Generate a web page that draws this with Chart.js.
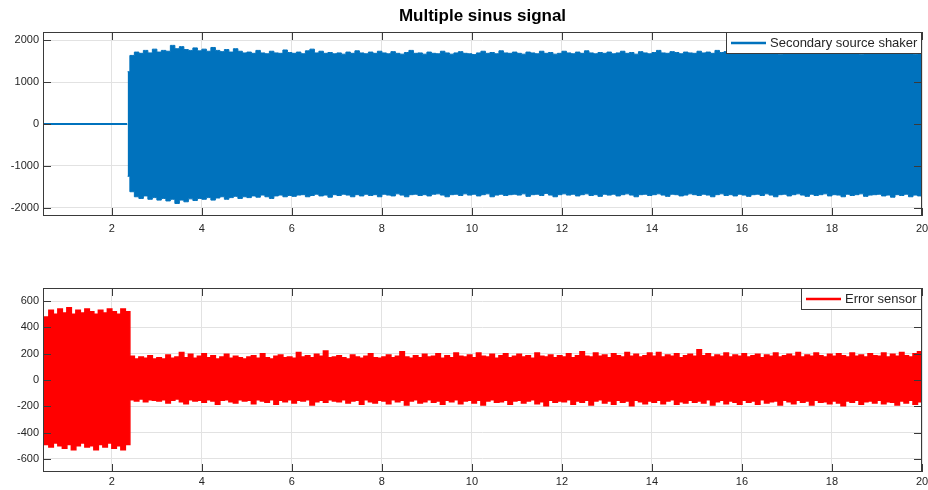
<!DOCTYPE html>
<html>
<head>
<meta charset="utf-8">
<title>Multiple sinus signal</title>
<script src="https://cdn.jsdelivr.net/npm/chart.js@4.4.1/dist/chart.umd.min.js"></script>
<style>
  body { margin: 0; background: #fff; }
  canvas { display: block; }
</style>
</head>
<body>
<canvas id="shakerChart" width="928" height="245"></canvas>
<canvas id="errorChart" width="928" height="245"></canvas>
<script>
// spacing of the envelope samples, seconds
const SAMPLE_STEP = 0.1;

const xTicks = [2, 4, 6, 8, 10, 12, 14, 16, 18, 20];
const shakerTicks = [-2000, -1000, 0, 1000, 2000];
const errorTicks = [-600, -400, -200, 0, 200, 400, 600];

// shaker output stays at zero until the controller switches on
const shakerIdleTime = [0.45, 2.34];
const shakerIdleValue = [0, 0];

// peak envelope of the shaker drive, one reading per SAMPLE_STEP from shakerStart
const shakerStart = 2.35;
const shakerUpper = [
  1250, 1640, 1720, 1690, 1760, 1700, 1790,
  1720, 1760, 1740, 1880, 1800, 1850, 1780, 1760, 1820, 1750,
  1790, 1740, 1830, 1760, 1730, 1780, 1720, 1800, 1740, 1700,
  1720, 1690, 1760, 1700, 1680, 1740, 1700, 1690, 1770, 1710,
  1690, 1720, 1680, 1750, 1790, 1700, 1740, 1690, 1710, 1680,
  1700, 1670, 1720, 1690, 1750, 1700, 1680, 1720, 1690, 1740,
  1700, 1680, 1730, 1690, 1670, 1710, 1760, 1690, 1700, 1670,
  1720, 1690, 1680, 1740, 1700, 1670, 1700, 1730, 1690, 1680,
  1660, 1700, 1740, 1690, 1710, 1680, 1750, 1700, 1690, 1720,
  1690, 1670, 1720, 1700, 1680, 1740, 1690, 1710, 1670, 1690,
  1740, 1700, 1680, 1720, 1690, 1750, 1700, 1680, 1710, 1690,
  1720, 1680, 1700, 1740, 1690, 1710, 1670, 1730, 1700, 1680,
  1710, 1760, 1700, 1690, 1730, 1710, 1680, 1720, 1700, 1690,
  1740, 1700, 1720, 1690, 1760, 1710, 1730, 1700, 1750, 1720,
  1700, 1680, 1720, 1690, 1710, 1740, 1680, 1700, 1670, 1720,
  1690, 1710, 1680, 1740, 1700, 1690, 1720, 1680, 1700, 1730,
  1690, 1710, 1680, 1700, 1740, 1690, 1670, 1720, 1700, 1680,
  1710, 1690, 1740, 1700, 1680, 1720, 1690, 1700, 1670, 1690,
  1680
];
const shakerLower = [
  -1250, -1620, -1740, -1780, -1720, -1800, -1760,
  -1820, -1780, -1840, -1800, -1900, -1820, -1860, -1790, -1830, -1780,
  -1800, -1760, -1820, -1770, -1740, -1800, -1760, -1730, -1780, -1740,
  -1760, -1720, -1750, -1700, -1740, -1780, -1720, -1700, -1740, -1710,
  -1730, -1700, -1690, -1740, -1710, -1680, -1720, -1700, -1750, -1690,
  -1710, -1680, -1700, -1740, -1690, -1720, -1680, -1710, -1690, -1740,
  -1680, -1700, -1720, -1670, -1700, -1740, -1690, -1680, -1710, -1690,
  -1720, -1680, -1670, -1700, -1740, -1690, -1680, -1710, -1670, -1700,
  -1680, -1720, -1690, -1670, -1740, -1700, -1680, -1710, -1690, -1680,
  -1700, -1670, -1730, -1690, -1680, -1710, -1660, -1700, -1740, -1690,
  -1670, -1700, -1680, -1720, -1690, -1670, -1710, -1690, -1730, -1680,
  -1700, -1680, -1720, -1690, -1670, -1700, -1740, -1690, -1680, -1710,
  -1690, -1670, -1700, -1730, -1680, -1690, -1720, -1700, -1670, -1690,
  -1710, -1680, -1700, -1740, -1690, -1670, -1710, -1690, -1720, -1680,
  -1700, -1730, -1690, -1680, -1710, -1670, -1700, -1740, -1690, -1680,
  -1720, -1690, -1670, -1700, -1730, -1680, -1710, -1690, -1670, -1720,
  -1690, -1700, -1740, -1680, -1710, -1690, -1670, -1730, -1700, -1690,
  -1680, -1720, -1700, -1750, -1690, -1710, -1680, -1740, -1700, -1720,
  -1700
];

// peak envelope of the error sensor, one reading per SAMPLE_STEP from errorStart
const errorStart = 0.45;
const errorUpper = [
  470, 480, 530, 500, 540, 510, 550, 500, 530, 510,
  540, 520, 500, 530, 510, 540, 520, 500, 540, 520,
  180, 160, 175, 165, 185, 160,
  170, 160, 190, 165, 175, 210, 170, 195, 165, 180,
  200, 170, 185, 160, 175, 195, 165, 180, 170, 160,
  175, 185, 165, 200, 170, 160, 180, 190, 170, 175,
  165, 210, 175, 185, 170, 195, 180, 220, 170, 175,
  185, 170, 160, 190, 175, 165, 180, 200, 170, 165,
  175, 190, 170, 180, 215, 175, 165, 185, 170, 195,
  175, 180, 200, 165, 185, 170, 205, 180, 175, 190,
  170, 205, 180, 175, 195, 165, 185, 200, 170, 180,
  195, 175, 185, 165, 205, 180, 175, 190, 170, 185,
  175, 200, 170, 185, 215, 180, 175, 205, 180, 190,
  170, 200, 185, 175, 210, 180, 195, 175, 185, 205,
  180, 210, 175, 190, 180, 200, 170, 185, 195, 180,
  230, 185, 200, 175, 190, 180, 205, 175, 190, 180,
  200, 175, 185, 195, 170, 190, 180, 205, 175, 185,
  195, 180, 210, 175, 190, 180, 205, 185, 175, 195,
  180, 200, 185, 175, 205, 180, 190, 175, 200, 185,
  180, 205, 175, 195, 180, 210, 185, 175, 200, 215,
  190
];
const errorLower = [
  -470, -490, -510, -480, -500, -520, -490, -530, -500, -480,
  -510, -500, -530, -490, -510, -480, -520, -500, -530, -490,
  -150, -160, -145, -165, -150, -155,
  -160, -150, -175, -155, -145, -165, -180, -150, -160, -155,
  -170, -150, -160, -185, -155, -150, -165, -175, -150, -160,
  -155, -180, -150, -160, -170, -150, -185, -155, -165, -150,
  -175, -155, -160, -150, -190, -165, -155, -170, -150, -160,
  -165, -150, -175, -160, -155, -185, -150, -165, -175, -155,
  -160, -180, -150, -165, -155, -190, -160, -150, -175, -165,
  -150, -170, -160, -185, -155, -165, -150, -180, -160, -155,
  -175, -155, -190, -160, -150, -170, -165, -155, -185, -160,
  -155, -175, -160, -150, -180, -165, -195, -155, -170, -160,
  -165, -150, -185, -160, -170, -155, -190, -160, -150, -175,
  -160, -185, -155, -170, -160, -195, -155, -165, -180, -160,
  -170, -155, -180, -160, -150, -185, -165, -175, -155, -170,
  -160, -175, -150, -190, -165, -155, -180, -160, -170, -185,
  -155, -170, -160, -185, -150, -175, -165, -160, -190, -155,
  -165, -180, -155, -170, -160, -190, -155, -170, -165, -180,
  -160, -175, -195, -160, -170, -155, -185, -165, -160, -175,
  -155, -180, -165, -170, -190, -160, -175, -155, -185, -165,
  -170
];

const BLUE = '#0072BD';
const RED = '#FF0000';
const GRID = '#e2e2e2';
const FRAME = '#3a3a3a';
const TEXT = '#262626';
const TICK_LEN = 8;
const X_MIN = 0.47, X_MAX = 20;

Chart.defaults.font.family = "'Liberation Sans', Arial, sans-serif";
Chart.defaults.animation = false;

const toPoints = (start, values) =>
  values.map((v, i) => ({ x: +(start + i * SAMPLE_STEP).toFixed(2), y: v }));

const zip = (xs, ys) => xs.map((x, i) => ({ x: x, y: ys[i] }));

// MATLAB style box round the axes with inward ticks on all four sides
const axesFrame = {
  id: 'axesFrame',
  afterDatasetsDraw(chart) {
    const { ctx, chartArea: a, scales } = chart;
    ctx.save();
    ctx.strokeStyle = FRAME;
    ctx.lineWidth = 1;
    ctx.strokeRect(a.left + 0.5, a.top + 0.5, a.width - 1, a.height - 1);
    ctx.beginPath();
    scales.x.ticks.forEach(t => {
      const px = Math.round(scales.x.getPixelForValue(t.value)) + 0.5;
      ctx.moveTo(px, a.bottom); ctx.lineTo(px, a.bottom - TICK_LEN);
      ctx.moveTo(px, a.top); ctx.lineTo(px, a.top + TICK_LEN);
    });
    scales.y.ticks.forEach(t => {
      const py = Math.round(scales.y.getPixelForValue(t.value)) + 0.5;
      ctx.moveTo(a.left, py); ctx.lineTo(a.left + TICK_LEN, py);
      ctx.moveTo(a.right, py); ctx.lineTo(a.right - TICK_LEN, py);
    });
    ctx.stroke();
    ctx.restore();
  }
};

// legend box tucked into the top right corner of the axes
const boxedLegend = {
  id: 'boxedLegend',
  afterDraw(chart) {
    const ds = chart.data.datasets.find(d => d.label);
    if (!ds) return;
    const { ctx, chartArea: a } = chart;
    ctx.save();
    ctx.font = "13px 'Liberation Sans', Arial, sans-serif";
    const tw = ctx.measureText(ds.label).width;
    const w = Math.round(5 + 35 + 4 + tw + 5), h = 22;
    const x = Math.round(a.right) - w, y = Math.round(a.top);
    ctx.fillStyle = '#fff';
    ctx.fillRect(x, y, w, h);
    ctx.strokeStyle = FRAME;
    ctx.lineWidth = 1;
    ctx.strokeRect(x + 0.5, y + 0.5, w - 1, h - 1);
    ctx.strokeStyle = ds.borderColor;
    ctx.lineWidth = 2.5;
    ctx.beginPath();
    ctx.moveTo(x + 5, y + 11);
    ctx.lineTo(x + 40, y + 11);
    ctx.stroke();
    ctx.fillStyle = TEXT;
    ctx.textBaseline = 'middle';
    ctx.fillText(ds.label, x + 44, y + 11.5);
    ctx.restore();
  }
};

function buildScales(yRange, yTicks, xHeight, xPad) {
  return {
    x: {
      type: 'linear',
      min: X_MIN,
      max: X_MAX,
      afterBuildTicks: s => { s.ticks = xTicks.map(v => ({ value: v })); },
      afterFit: s => { s.height = xHeight; s.paddingLeft = 0; s.paddingRight = 0; },
      grid: { color: GRID, drawTicks: false },
      border: { display: false },
      ticks: {
        padding: xPad, color: TEXT, font: { size: 11 },
        maxRotation: 0, autoSkip: false, callback: v => String(v)
      }
    },
    y: {
      min: -yRange,
      max: yRange,
      afterBuildTicks: s => { s.ticks = yTicks.map(v => ({ value: v })); },
      afterFit: s => { s.width = 43; },
      grid: { color: GRID, drawTicks: false },
      border: { display: false },
      ticks: { padding: 4, color: TEXT, font: { size: 11 }, autoSkip: false, callback: v => String(v) }
    }
  };
}

// stepped envelope gives the comb-like edge of a dense oscillation
const bandLine = { pointRadius: 0, tension: 0, spanGaps: false, stepped: 'middle' };

new Chart(document.getElementById('shakerChart'), {
  type: 'line',
  data: {
    datasets: [
      { ...bandLine, label: 'Secondary source shaker', data: toPoints(shakerStart, shakerUpper),
        borderColor: BLUE, borderWidth: 1, fill: false },
      { ...bandLine, data: toPoints(shakerStart, shakerLower),
        borderColor: BLUE, borderWidth: 1, backgroundColor: BLUE, fill: '-1' },
      { ...bandLine, stepped: false, data: zip(shakerIdleTime, shakerIdleValue),
        borderColor: BLUE, borderWidth: 2, fill: false }
    ]
  },
  options: {
    responsive: false,
    layout: { padding: { right: 6 } },
    scales: buildScales(2200, shakerTicks, 29, 6),
    plugins: {
      legend: { display: false },
      tooltip: { enabled: false },
      title: {
        display: true,
        fullSize: false,
        text: 'Multiple sinus signal',
        color: '#000',
        font: { size: 17, weight: 'bold' },
        padding: { top: 6, bottom: 5.6 }
      }
    }
  },
  plugins: [axesFrame, boxedLegend]
});

new Chart(document.getElementById('errorChart'), {
  type: 'line',
  data: {
    datasets: [
      { ...bandLine, label: 'Error sensor', data: toPoints(errorStart, errorUpper),
        borderColor: RED, borderWidth: 1.5, fill: false },
      { ...bandLine, data: toPoints(errorStart, errorLower),
        borderColor: RED, borderWidth: 1.5, backgroundColor: RED, fill: '-1' }
    ]
  },
  options: {
    responsive: false,
    layout: { padding: { top: 43, right: 6 } },
    scales: buildScales(700, errorTicks, 18, 3),
    plugins: {
      legend: { display: false },
      tooltip: { enabled: false }
    }
  },
  plugins: [axesFrame, boxedLegend]
});
</script>
</body>
</html>
